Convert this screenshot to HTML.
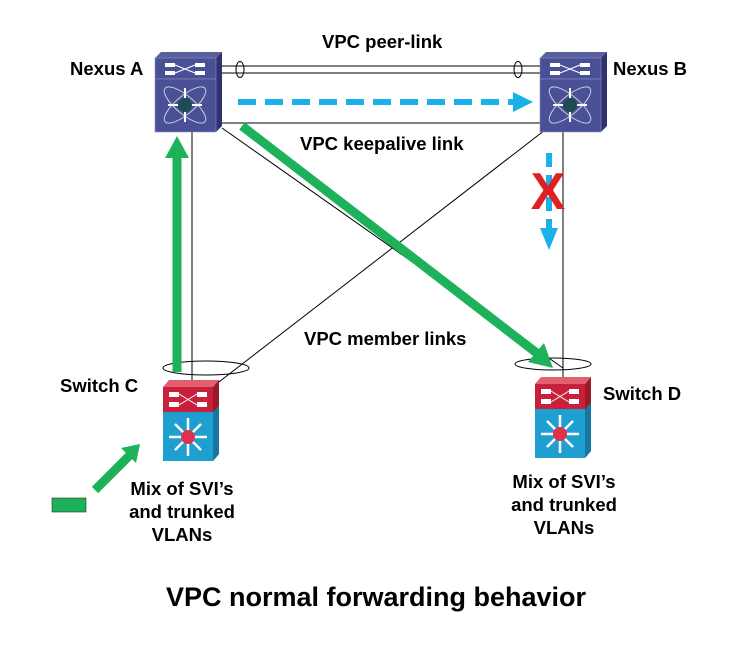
<!DOCTYPE html><html><head><style>body{margin:0;background:#fff}svg text{font-family:"Liberation Sans",sans-serif;font-weight:bold;fill:#000}</style></head><body>
<svg width="738" height="641" viewBox="0 0 738 641" xmlns="http://www.w3.org/2000/svg">
<defs>
<g id="nexus">
<polygon points="0,6 6,0 67,0 61,6" fill="#5a5f9c"/>
<polygon points="61,6 67,0 67,74 61,80" fill="#2e3370"/>
<rect x="0" y="6" width="61" height="21" fill="#4a5096" stroke="#8890c8" stroke-width="0.6"/>
<rect x="0" y="27" width="61" height="53" fill="#4a5096" stroke="#8890c8" stroke-width="0.6"/>
<rect x="10" y="11" width="10" height="4" fill="#fff"/><rect x="40" y="11" width="10" height="4" fill="#fff"/>
<rect x="10" y="19" width="10" height="4" fill="#fff"/><rect x="40" y="19" width="10" height="4" fill="#fff"/>
<path d="M20,13 L40,21 M20,21 L40,13" stroke="#fff" stroke-width="1"/>
<ellipse cx="30" cy="53" rx="26" ry="9" fill="none" stroke="#ccd" stroke-width="1" transform="rotate(40 30 53)"/>
<ellipse cx="30" cy="53" rx="26" ry="9" fill="none" stroke="#ccd" stroke-width="1" transform="rotate(-40 30 53)"/>
<path d="M30,36 V70 M13,53 H47" stroke="#fff" stroke-width="2"/>
<circle cx="30" cy="53" r="7" fill="#1d4d50"/>
</g>
<g id="sw">
<polygon points="0,7 6,0 56,0 50,7" fill="#e06070"/>
<polygon points="50,7 56,0 56,74 50,81" fill="#9a1a2a"/>
<rect x="0" y="7" width="50" height="25" fill="#c8203a"/>
<rect x="0" y="32" width="50" height="49" fill="#1e9fd0"/>
<polygon points="50,32 56,26 56,74 50,81" fill="#1777a0"/>
<rect x="6" y="12" width="10" height="5" fill="#fff"/><rect x="34" y="12" width="10" height="5" fill="#fff"/>
<rect x="6" y="22" width="10" height="5" fill="#fff"/><rect x="34" y="22" width="10" height="5" fill="#fff"/>
<path d="M16,14 L34,25 M16,25 L34,14" stroke="#fff" stroke-width="1"/>
<g stroke="#fff" stroke-width="2.5"><path d="M25,38 V76 M6,57 H44 M12,44 L38,70 M38,44 L12,70"/></g>
<circle cx="25" cy="57" r="7" fill="#e03050"/>
</g>
</defs>
<g stroke="#000" stroke-width="1" fill="none">
<line x1="222" y1="66" x2="540" y2="66"/><line x1="222" y1="73" x2="540" y2="73"/>
<ellipse cx="240" cy="69.5" rx="4" ry="8"/><ellipse cx="518" cy="69.5" rx="4" ry="8"/>
<line x1="222" y1="123" x2="540" y2="123"/>
<line x1="192" y1="132" x2="192" y2="388"/>
<line x1="222" y1="128" x2="563" y2="368"/>
<line x1="545" y1="130" x2="215" y2="385"/>
<line x1="563" y1="132" x2="563" y2="378"/>
<ellipse cx="206" cy="368" rx="43" ry="7"/>
<ellipse cx="553" cy="364" rx="38" ry="6"/>
</g>
<use href="#nexus" x="155" y="52"/>
<use href="#nexus" x="540" y="52"/>
<use href="#sw" x="163" y="380"/>
<use href="#sw" x="535" y="377"/>
<line x1="238" y1="102" x2="515" y2="102" stroke="#1ab0e8" stroke-width="6" stroke-dasharray="18,9"/>
<polygon points="513,92 533,102 513,112" fill="#1ab0e8"/>
<line x1="549" y1="153" x2="549" y2="228" stroke="#1ab0e8" stroke-width="6" stroke-dasharray="14,8"/>
<polygon points="540,228 558,228 549,250" fill="#1ab0e8"/>
<text x="548" y="209" text-anchor="middle" style="font-size:52px;fill:#e02020;font-weight:bold">X</text>
<line x1="177" y1="372" x2="177" y2="156" stroke="#1db25a" stroke-width="9"/>
<polygon points="165,158 189,158 177,136" fill="#1db25a"/>
<line x1="242" y1="126" x2="538" y2="354" stroke="#1db25a" stroke-width="9"/>
<polygon points="528,362 544,343 553,368" fill="#1db25a"/>
<line x1="95" y1="490" x2="130" y2="455" stroke="#1db25a" stroke-width="9"/>
<polygon points="121,448 140,444 136,463" fill="#1db25a"/>
<rect x="52" y="498" width="34" height="14" fill="#1db25a" stroke="#333" stroke-width="0.6"/>
<g style="font-size:18.5px">
<text x="322" y="48">VPC peer-link</text>
<text x="70" y="75">Nexus A</text>
<text x="613" y="75">Nexus B</text>
<text x="300" y="150">VPC keepalive link</text>
<text x="304" y="345">VPC member links</text>
<text x="60" y="392">Switch C</text>
<text x="603" y="400">Switch D</text>
<text x="182" y="495" text-anchor="middle">Mix of SVI’s</text>
<text x="182" y="518" text-anchor="middle">and trunked</text>
<text x="182" y="541" text-anchor="middle">VLANs</text>
<text x="564" y="488" text-anchor="middle">Mix of SVI’s</text>
<text x="564" y="511" text-anchor="middle">and trunked</text>
<text x="564" y="534" text-anchor="middle">VLANs</text>
</g>
<text x="376" y="606" text-anchor="middle" style="font-size:27px">VPC normal forwarding behavior</text>
</svg></body></html>
